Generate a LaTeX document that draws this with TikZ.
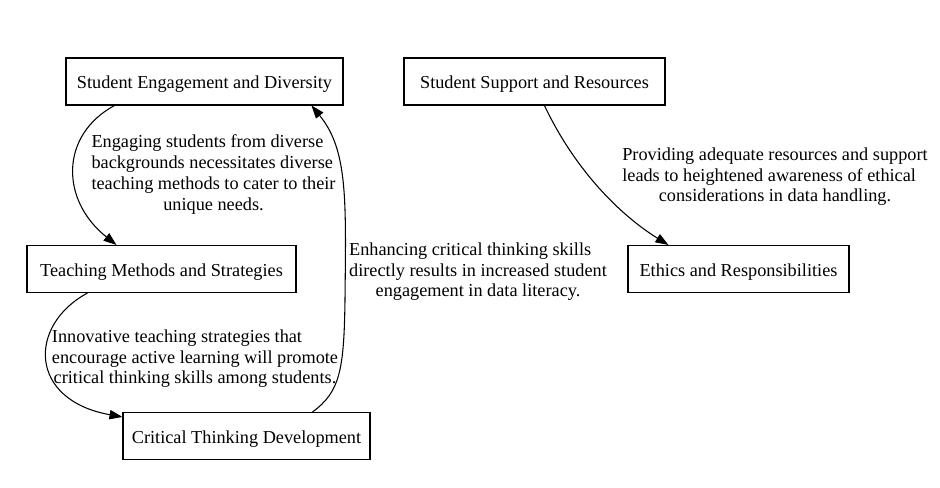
\documentclass[tikz,border=0pt]{standalone}
\usepackage{fontspec}
\setmainfont{Liberation Serif}
\usetikzlibrary{arrows.meta,calc}
\begin{document}
\begin{tikzpicture}[x=0.75pt, y=-0.75pt,
    every node/.style={font=\fontsize{13.7}{15.6}\selectfont},
    box/.style={draw, rectangle, minimum height=35.25pt, inner sep=0pt, text height=14pt, text depth=3pt, line width=0.8pt},
    lbl/.style={inner sep=0pt},
    link/.style={-{Triangle[length=9.75pt,width=7pt]}, line width=0.8pt}]
  \useasboundingbox (0,0) rectangle (940,487);
  % Nodi
  \node[box, minimum width=207.75pt] (engage) at (204.5,81.5) {Student Engagement and Diversity};
  \node[box, minimum width=195.75pt] (support) at (534.5,81.5) {Student Support and Resources};
  \node[box, minimum width=201.75pt] (teach) at (161.5,269) {Teaching Methods and Strategies};
  \node[box, minimum width=165.75pt] (ethics) at (738.5,269) {Ethics and Responsibilities};
  \node[box, minimum width=185.25pt] (crit) at (246.5,436) {Critical Thinking Development};
  % Archi
  \draw[link] ($(engage.south west)+(49,0)$) .. controls (60,135) and (60,200) .. ($(teach.north west)+(90,0)$);
  \draw[link] ($(teach.south west)+(61,0)$) .. controls (28,325) and (28,400) .. ($(crit.north west)+(0,5)$);
  \draw[link] ($(crit.north west)+(190,0)$) .. controls (340,392) and (344,370) .. (345,300)
    .. controls (346,200) and (348,150) .. ($(engage.south west)+(246,0)$);
  \draw[link] ($(support.south west)+(141,0)$) .. controls (575,170) and (620,215) .. ($(ethics.north west)+(41,0)$);
  % Etichette
  \node[lbl] (lab1) at (213.5,175) {\begin{tabular}{@{}l@{}}Engaging students from diverse\\backgrounds necessitates diverse\\teaching methods to cater to their\\\multicolumn{1}{@{}c@{}}{unique needs.}\end{tabular}};
  \node[lbl] (lab2) at (195,359) {\begin{tabular}{@{}l@{}}Innovative teaching strategies that\\encourage active learning will promote\\\multicolumn{1}{@{}c@{}}{critical thinking skills among students.}\end{tabular}};
  \node[lbl] (lab3) at (478,272) {\begin{tabular}{@{}l@{}}Enhancing critical thinking skills\\directly results in increased student\\\multicolumn{1}{@{}c@{}}{engagement in data literacy.}\end{tabular}};
  \node[lbl] (lab4) at (775,177) {\begin{tabular}{@{}l@{}}Providing adequate resources and support\\leads to heightened awareness of ethical\\\multicolumn{1}{@{}c@{}}{considerations in data handling.}\end{tabular}};
\end{tikzpicture}
\end{document}
